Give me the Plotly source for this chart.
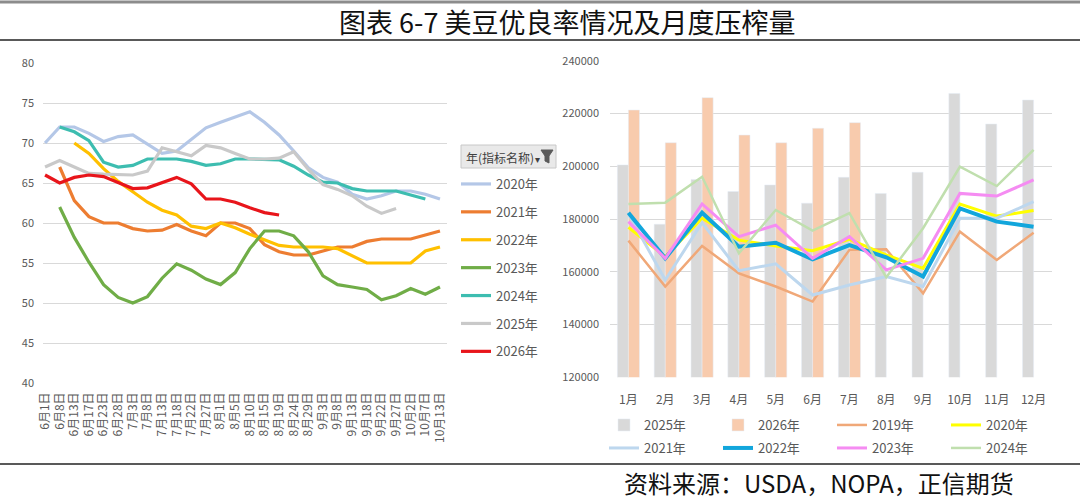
import plotly.graph_objects as go

W, H = 1080, 504
FONT = "Noto Sans CJK SC"
GREY_TXT = "#595959"

# ---- left: soybean good/excellent rating (%) ----
dates = ["6月1日", "6月8日", "6月13日", "6月17日", "6月23日", "6月28日", "7月3日",
         "7月8日", "7月13日", "7月18日", "7月22日", "7月27日", "8月1日", "8月5日",
         "8月10日", "8月15日", "8月19日", "8月24日", "8月29日", "9月3日", "9月8日",
         "9月13日", "9月18日", "9月22日", "9月27日", "10月2日", "10月7日", "10月13日"]

cond_2020 = [70, 72, 72, 71.2, 70.2, 70.8, 71, 69.9, 68.7, 69, 70.4, 71.9, 72.6, 73.3,
             73.9, 72.6, 71, 69, 66.9, 65.7, 65.1, 63.6, 63, 63.4, 64, 64, 63.6, 63]
cond_2021 = [None, 67, 62.8, 60.8, 60, 60, 59.3, 59, 59.1, 59.8, 59, 58.4, 60, 60,
             59.3, 57.3, 56.4, 56, 56, 56.5, 57, 57, 57.7, 58, 58, 58, 58.5, 59]
cond_2022 = [None, None, 70, 68.7, 66.8, 65.2, 63.9, 62.6, 61.6, 61, 59.6, 59.3, 60, 59.4,
             58.6, 57.9, 57.2, 57, 57, 57, 56.8, 55.9, 55, 55, 55, 55, 56.5, 57]
cond_2023 = [None, 62, 58.2, 55.1, 52.3, 50.7, 50, 50.8, 53.1, 54.9, 54.1, 53, 52.3, 53.8,
             56.8, 59, 59, 58.4, 56.4, 53.4, 52.3, 52, 51.7, 50.4, 50.9, 51.8, 51.1, 52]
cond_2024 = [None, 72, 71.4, 70.3, 67.6, 67, 67.2, 68, 68, 68, 67.7, 67.2, 67.4, 68,
             68, 68, 67.9, 67.1, 66, 65.1, 65, 64.3, 64, 64, 64, 63.5, 63, None]
cond_2025 = [67, 67.8, 67, 66.2, 66.1, 66, 66, 66.5, 69.4, 68.9, 68.4, 69.7, 69.4, 68.7,
             68, 68, 68.1, 68.9, 66.7, 64.8, 64.2, 63.4, 62.1, 61.2, 61.8, None, None, None]
cond_2026 = [66, 65, 65.7, 66, 65.8, 65, 64.3, 64.4, 65.1, 65.7, 64.9, 63, 63, 62.6,
             61.9, 61.3, 61] + [None] * 11

# ---- right: NOPA monthly crush ----
months = ["1月", "2月", "3月", "4月", "5月", "6月", "7月", "8月", "9月", "10月", "11月", "12月"]
crush_2025 = [200500, 178000, 195000, 190400, 192900, 186000, 195800, 189700, 197700, 227600, 216000, 225100]
crush_2026 = [221300, 208900, 226000, 211800, 208900, 214400, 216500]
crush_2019 = [171800, 154400, 169800, 159400, 154400, 148700, 168300, 168500, 151800, 175200, 164500, 174800]
crush_2020 = [176800, 165700, 180300, 172000, 169800, 168000, 172300, 166400, 161300, 185700, 181100, 183200]
crush_2021 = [182000, 156900, 178600, 160400, 163000, 151200, 155000, 158200, 154400, 180300, 180300, 186600]
crush_2022 = [182400, 165100, 182400, 169500, 171000, 164700, 170100, 165500, 158200, 184000, 179000, 177100]
crush_2023 = [179000, 165100, 185700, 173300, 177700, 165100, 173300, 160700, 165100, 189700, 188700, 194800]
crush_2024 = [185700, 186200, 196000, 167000, 183400, 175600, 182200, 157900, 176500, 199800, 192500, 206200]


def px(x):
    return x / W


def py(y):
    return 1 - y / H


fig = go.Figure()

left_series = [
    ("2020年", cond_2020, "#B4C7E7"),
    ("2021年", cond_2021, "#ED7D31"),
    ("2022年", cond_2022, "#FFC000"),
    ("2023年", cond_2023, "#70AD47"),
    ("2024年", cond_2024, "#3DBDB0"),
    ("2025年", cond_2025, "#C9C9C9"),
    ("2026年", cond_2026, "#E8151B"),
]
for name, vals, color in left_series:
    fig.add_trace(go.Scatter(x=dates, y=vals, name=name, mode="lines",
                             line=dict(color=color, width=3.2),
                             xaxis="x", yaxis="y", legend="legend", legendgroup=name))

fig.add_trace(go.Bar(x=months, y=crush_2025, name="2025年", marker_color="#D9D9D9",
                     xaxis="x2", yaxis="y2", legend="legend2"))
fig.add_trace(go.Bar(x=months[:len(crush_2026)], y=crush_2026, name="2026年", marker_color="#F8CBAD",
                     xaxis="x2", yaxis="y2", legend="legend2"))

right_lines = [
    ("2019年", crush_2019, "#F0A878", 2.5, "legend2"),
    ("2020年", crush_2020, "#FFFF00", 3, "legend2"),
    ("2021年", crush_2021, "#BDD7EE", 3, "legend3"),
    ("2022年", crush_2022, "#12A6DC", 4, "legend3"),
    ("2023年", crush_2023, "#F58CF2", 3, "legend3"),
    ("2024年", crush_2024, "#C0DFAE", 2.5, "legend3"),
]
for name, vals, color, w, lg in right_lines:
    fig.add_trace(go.Scatter(x=months, y=vals, name=name, mode="lines",
                             line=dict(color=color, width=w),
                             xaxis="x2", yaxis="y2", legend=lg))

# header button of the pivot legend + funnel icon
funnel = [(541, 150), (553, 150), (549, 156), (549, 163), (545, 161), (545, 156)]
funnel_path = "M " + " L ".join(f"{px(a):.5f} {py(b):.5f}" for a, b in funnel) + " Z"

shapes = [
    dict(type="line", xref="paper", yref="paper", x0=0, x1=1, y0=py(2), y1=py(2),
         line=dict(color="#8C8C8C", width=3)),
    dict(type="line", xref="paper", yref="paper", x0=0, x1=1, y0=py(40), y1=py(40),
         line=dict(color="#222222", width=1.5)),
    dict(type="line", xref="paper", yref="paper", x0=0, x1=1, y0=py(464), y1=py(464),
         line=dict(color="#222222", width=1.5)),
    dict(type="rect", xref="paper", yref="paper", x0=px(461), x1=px(556), y0=py(168), y1=py(145),
         fillcolor="#E9E9E9", line=dict(color="#C8C8C8", width=1), layer="below"),
    dict(type="path", xref="paper", yref="paper", path=funnel_path,
         fillcolor="#5A5A5A", line=dict(color="#5A5A5A", width=1)),
]

annotations = [
    dict(text="图表 6-7 美豆优良率情况及月度压榨量", x=px(567), y=py(22), xref="paper", yref="paper",
         xanchor="center", yanchor="middle", showarrow=False,
         font=dict(family=FONT, size=27, color="#111111")),
    dict(text="资料来源：USDA，NOPA，正信期货", x=px(1016), y=py(482), xref="paper", yref="paper",
         xanchor="right", yanchor="middle", showarrow=False,
         font=dict(family=FONT, size=24, color="#111111")),
    dict(text="年(指标名称)", x=px(464), y=py(157), xref="paper", yref="paper",
         xanchor="left", yanchor="middle", showarrow=False,
         font=dict(family=FONT, size=12, color="#404040")),
    dict(text="▾", x=px(537), y=py(158), xref="paper", yref="paper",
         xanchor="center", yanchor="middle", showarrow=False,
         font=dict(family=FONT, size=10, color="#404040")),
]

legend_font = dict(family=FONT, size=13, color=GREY_TXT)

fig.update_layout(
    width=W, height=H,
    margin=dict(l=0, r=0, t=0, b=0, autoexpand=False),
    paper_bgcolor="white", plot_bgcolor="white",
    font=dict(family=FONT, color=GREY_TXT),
    barmode="group", bargap=0.4, bargroupgap=0,
    shapes=shapes, annotations=annotations,
    xaxis=dict(domain=[px(43), px(447)], range=[-0.14, 27.48], type="category",
               tickangle=-90, tickfont=dict(size=12, color=GREY_TXT), showgrid=False,
               ticks="", showline=False, zeroline=False, ticklabelstandoff=6,
               automargin=False, anchor="y"),
    yaxis=dict(domain=[py(383), py(63)], range=[40, 80], dtick=5,
               gridcolor="#D9D9D9", showline=False, zeroline=False,
               tickfont=dict(size=11, color=GREY_TXT), ticklabelstandoff=8,
               automargin=False, anchor="x"),
    xaxis2=dict(domain=[px(610), px(1052)], type="category", showgrid=False, ticks="",
                showline=False, zeroline=False, tickfont=dict(size=12, color=GREY_TXT),
                ticklabelstandoff=14, automargin=False, anchor="y2"),
    yaxis2=dict(domain=[py(377.3), py(60.7)], range=[120000, 240000], dtick=20000,
                tickformat="d", gridcolor="#D9D9D9", showline=False, zeroline=False,
                tickfont=dict(size=11, color=GREY_TXT), ticklabelstandoff=10,
                automargin=False, anchor="x2"),
    legend=dict(x=px(456), y=py(169), xanchor="left", yanchor="top", font=legend_font,
                tracegroupgap=8, bgcolor="rgba(0,0,0,0)", itemclick=False, itemdoubleclick=False),
    legend2=dict(orientation="h", x=px(604), y=py(425), xanchor="left", yanchor="middle",
                 font=legend_font, entrywidth=69, entrywidthmode="pixels",
                 bgcolor="rgba(0,0,0,0)", traceorder="normal"),
    legend3=dict(orientation="h", x=px(604), y=py(448), xanchor="left", yanchor="middle",
                 font=legend_font, entrywidth=69, entrywidthmode="pixels",
                 bgcolor="rgba(0,0,0,0)", traceorder="normal"),
)

# the page body has a default 8px margin; drop it so the figure sits at the window corner
fig.write_html("out.html", config={"displayModeBar": False},
               post_script="document.body.style.margin = '0';")
